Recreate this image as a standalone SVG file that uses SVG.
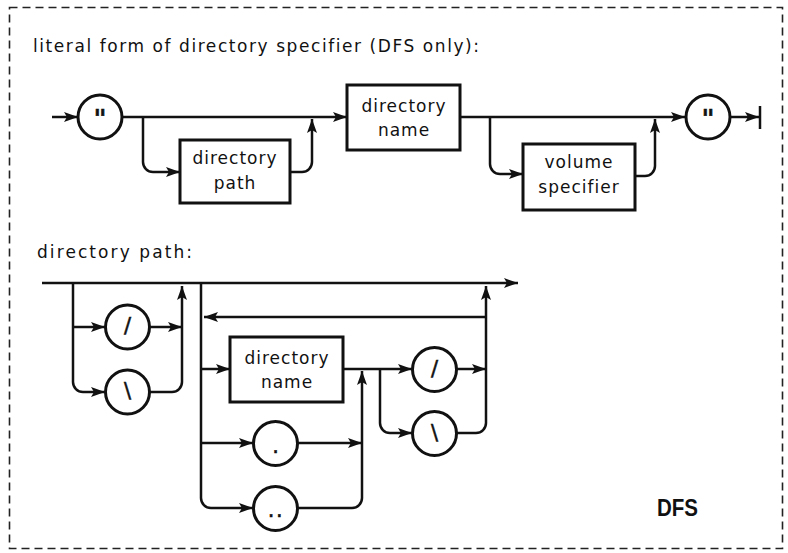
<svg xmlns="http://www.w3.org/2000/svg" width="788" height="553" viewBox="0 0 788 553">
<style>
.frame{fill:none;stroke:#222;stroke-width:1.6;stroke-dasharray:8 5}
.ln{fill:none;stroke:#111;stroke-width:2.5}
.box{fill:#fff;stroke:#111;stroke-width:3}
.cir{fill:#fff;stroke:#111;stroke-width:3}
.t{font-family:"DejaVu Sans",sans-serif;font-size:17px;fill:#111;letter-spacing:1px}
.lbl{font-family:"DejaVu Sans",sans-serif;font-size:17px;fill:#111;text-anchor:middle;letter-spacing:1px}
.sym{font-family:"DejaVu Sans",sans-serif;font-size:21px;fill:#111;text-anchor:middle;stroke:#111;stroke-width:0.5}
.dfs{font-family:"Liberation Sans",sans-serif;font-size:24px;font-weight:bold;fill:#111}
</style>
<defs>
<marker id="ah" markerUnits="userSpaceOnUse" markerWidth="14" markerHeight="10" refX="14" refY="5" orient="auto">
<path d="M0,0 L14,5 L0,10 L3,5 z" fill="#111"/>
</marker>
</defs>
<rect class="frame" x="9.5" y="7.5" width="773" height="541"/>
<text class="t" x="33" y="52" textLength="447" lengthAdjust="spacing">literal form of directory specifier (DFS only):</text>
<text class="t" x="37" y="258" textLength="156" lengthAdjust="spacing">directory path:</text>
<text class="dfs" x="657" y="516" textLength="41" lengthAdjust="spacingAndGlyphs">DFS</text>

<g id="connectors">
<path class="ln" d="M52,117 H78" marker-end="url(#ah)"/>
<path class="ln" d="M122,117 H347" marker-end="url(#ah)"/>
<path class="ln" d="M143,117 V162 A10,10 0 0 0 153,172 H180" marker-end="url(#ah)"/>
<path class="ln" d="M290,172 H302 A10,10 0 0 0 312,162 V119" marker-end="url(#ah)"/>
<path class="ln" d="M460,117 H685" marker-end="url(#ah)"/>
<path class="ln" d="M490,117 V164 A10,10 0 0 0 500,174 H523" marker-end="url(#ah)"/>
<path class="ln" d="M635,176 H645 A10,10 0 0 0 655,166 V119" marker-end="url(#ah)"/>
<path class="ln" d="M730,117 H759" marker-end="url(#ah)"/>
<path class="ln" d="M760,106 V129"/>

<path class="ln" d="M42,283 H518" marker-end="url(#ah)"/>
<path class="ln" d="M73,283 V382 A10,10 0 0 0 83,392 H105" marker-end="url(#ah)"/>
<path class="ln" d="M73,327 H105" marker-end="url(#ah)"/>
<path class="ln" d="M150,327 H182" marker-end="url(#ah)"/>
<path class="ln" d="M150,392 H172 A10,10 0 0 0 182,382 V286" marker-end="url(#ah)"/>
<path class="ln" d="M201,283 V498 A10,10 0 0 0 211,508 H253" marker-end="url(#ah)"/>
<path class="ln" d="M201,369 H230" marker-end="url(#ah)"/>
<path class="ln" d="M201,443 H253" marker-end="url(#ah)"/>
<path class="ln" d="M486,317 H204" marker-end="url(#ah)"/>
<path class="ln" d="M457,433 H476 A10,10 0 0 0 486,423 V286" marker-end="url(#ah)"/>
<path class="ln" d="M457,369 H486" marker-end="url(#ah)"/>
<path class="ln" d="M343,369 H412" marker-end="url(#ah)"/>
<path class="ln" d="M380,369 V423 A10,10 0 0 0 390,433 H412" marker-end="url(#ah)"/>
<path class="ln" d="M298,443 H362" marker-end="url(#ah)"/>
<path class="ln" d="M298,508 H352 A10,10 0 0 0 362,498 V371" marker-end="url(#ah)"/>
</g>

<g id="quote-open">
<circle class="cir" cx="100" cy="117" r="22"/>
<text class="sym" font-size="30" transform="translate(100,127) scale(1.4,1.15)">"</text>
</g>
<g id="dir-path-box">
<rect class="box" x="180" y="140" width="110" height="63"/>
<text class="lbl" x="235" y="164">directory</text>
<text class="lbl" x="235" y="189">path</text>
</g>
<g id="dir-name-box">
<rect class="box" x="347" y="85" width="113" height="65"/>
<text class="lbl" x="404" y="112">directory</text>
<text class="lbl" x="404" y="136">name</text>
</g>
<g id="volume-box">
<rect class="box" x="523" y="144" width="112" height="66"/>
<text class="lbl" x="579" y="168">volume</text>
<text class="lbl" x="579" y="193">specifier</text>
</g>
<g id="quote-close">
<circle class="cir" cx="708" cy="117" r="22"/>
<text class="sym" font-size="30" transform="translate(708,127) scale(1.4,1.15)">"</text>
</g>

<g id="slash-left">
<circle class="cir" cx="127.5" cy="327" r="22"/>
<text class="sym" x="127.5" y="333">/</text>
</g>
<g id="backslash-left">
<circle class="cir" cx="127.5" cy="392" r="22"/>
<text class="sym" x="127.5" y="398">\</text>
</g>
<g id="dir-name-box-2">
<rect class="box" x="230" y="337" width="113" height="65"/>
<text class="lbl" x="287" y="364">directory</text>
<text class="lbl" x="287" y="388">name</text>
</g>
<g id="dot">
<circle class="cir" cx="275.5" cy="443.5" r="22"/>
<text class="sym" x="275.5" y="453">.</text>
</g>
<g id="dotdot">
<circle class="cir" cx="275.5" cy="508.5" r="22"/>
<text class="sym" x="276" y="517" letter-spacing="1.5">..</text>
</g>
<g id="slash-right">
<circle class="cir" cx="434.5" cy="369.5" r="22"/>
<text class="sym" x="434.5" y="376">/</text>
</g>
<g id="backslash-right">
<circle class="cir" cx="434.5" cy="433.5" r="22"/>
<text class="sym" x="434.5" y="440">\</text>
</g>
</svg>
